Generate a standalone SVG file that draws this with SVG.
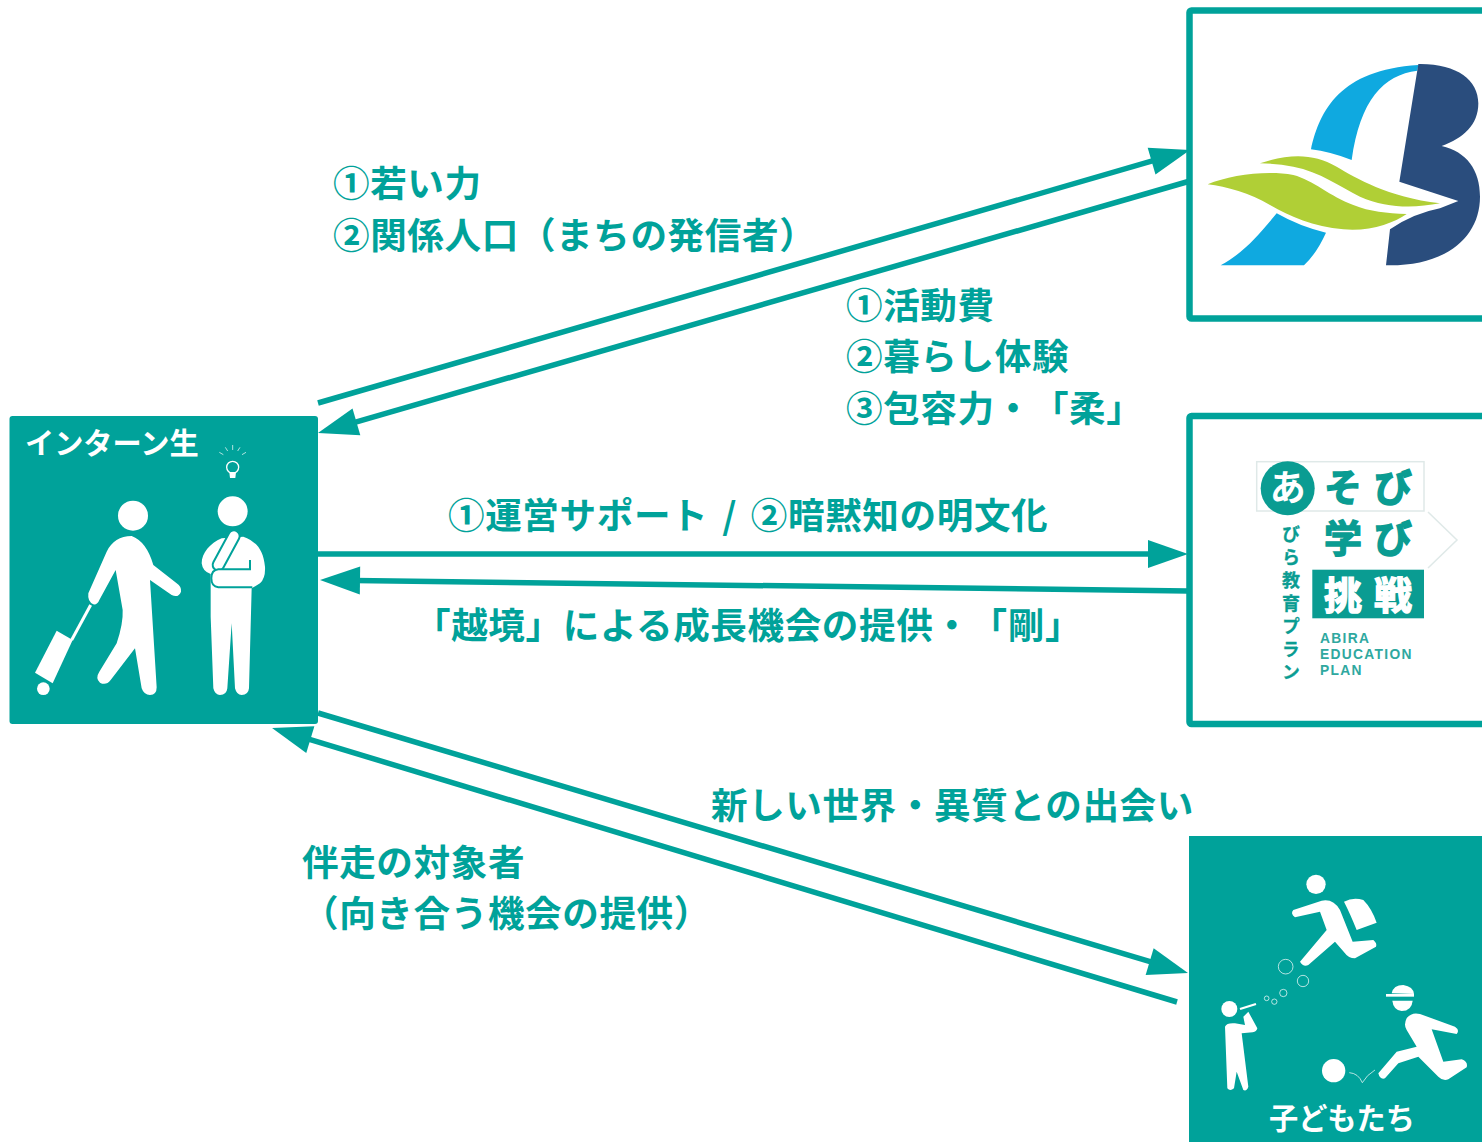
<svg xmlns="http://www.w3.org/2000/svg" width="1482" height="1142" viewBox="0 0 1482 1142">
<style>
text{text-spacing-trim:space-all}
.t{font-family:"Noto Sans CJK JP","Noto Sans",sans-serif;font-weight:700;fill:#00a29a;font-size:36.6px;letter-spacing:.6px}
.w{fill:#fff}
.b{fill:#00a29a}
.n{font-family:"Noto Sans CJK JP","Noto Sans",sans-serif;font-weight:700;fill:#fff}
.c{fill:none;stroke:#00a29a;stroke-width:5.5}
.f{fill:#fff;stroke:#00a29a;stroke-width:6.5}
.thin{fill:none;stroke:#fff;stroke-opacity:.7;stroke-width:3}
.l{font-family:"Noto Sans CJK JP","Noto Sans",sans-serif;font-weight:700;fill:#0a9c92;stroke:#0a9c92;stroke-width:1.4px}
.la{font-family:"Liberation Sans",sans-serif;font-weight:700;fill:#2fa89f;font-size:13.8px;letter-spacing:1.3px}
</style>
<defs>
<marker id="ah" markerUnits="userSpaceOnUse" viewBox="0 0 40 28" refX="25" refY="14" markerWidth="40" markerHeight="28" orient="auto" overflow="visible"><path d="M0 0L40 14L0 28Z" fill="#00a29a"/></marker>
</defs>
<rect width="1482" height="1142" fill="#fff"/>

<g id="intern">
<rect class="b" x="9.500" y="416" width="308.500" height="308" rx="3"/>
<text class="n" x="25" y="454" font-size="29.200">インターン生</text>
<g transform="translate(0 410) scale(.33333)">
<circle class="w" cx="399" cy="317" r="45"/>
<path class="w" d="M395 378C360 378 335 395 320 425L265 550Q262 575 280 583Q292 585 298 570L347 480L368 600Q370 640 350 700L298 785Q285 805 300 818Q318 828 332 810L405 715L425 835Q432 855 450 855Q470 855 470 832L450 510L515 555Q535 565 543 545Q545 530 530 520L460 465Q440 395 395 378Z"/>
<path d="M272 585L215 690" fill="none" stroke="#fff" stroke-width="9"/>
<path class="w" d="M170 662L218 690L158 820L105 788Z"/>
<circle class="w" cx="130" cy="836" r="19"/>
<circle class="w" cx="698" cy="304" r="45"/>
<path class="w" d="M665 385C630 400 605 430 605 460Q608 485 632 492L632 620L640 835Q645 855 660 855Q680 855 682 835L695 640L705 835Q710 855 725 855Q745 855 747 835L755 535L780 520Q797 505 795 470C790 420 770 395 730 380Z"/>
<path d="M702 378L655 465" fill="none" stroke="#00a29a" stroke-width="40" stroke-linecap="round"/>
<path d="M702 378L655 465" fill="none" stroke="#fff" stroke-width="28" stroke-linecap="round"/>
<path d="M750 450V478H655Q634 480 634 505Q634 530 655 532H757" fill="#fff" stroke="#00a29a" stroke-width="6"/>
<circle cx="698" cy="172" r="18" fill="none" stroke="#fff" stroke-width="4"/>
<path class="w" d="M688 186H708L706 204H690Z"/>
<path class="thin" d="M698 105V120M676 112L683 123M720 112L713 123M658 127L670 134M738 127L726 134"/>
</g>
</g>

<g id="abira-town">
<rect class="f" x="1189.500" y="10.500" width="320" height="308" rx="2"/>
<g transform="translate(1180 0) scale(.33333)">
<path fill="#0fa9e0" d="M393 448C420 330 480 210 715 195L712 212C610 225 540 300 515 480Q450 455 393 448Z"/>
<path fill="#0fa9e0" d="M122 796C190 760 240 700 290 640Q360 680 438 698Q410 760 372 796Z"/>
<path fill="#2a4d7d" d="M715 192C830 190 895 240 895 310C895 375 850 415 785 438C860 455 900 510 900 590C900 710 800 800 618 796L630 688Q700 640 780 625L835 603L658 545Z"/>
<path fill="#b0cf36" d="M240 490C330 460 400 460 470 500C530 535 620 590 780 610C700 625 620 625 540 590C480 560 420 515 340 500Q290 490 240 490Z"/>
<path fill="#b0cf36" d="M83 553C150 525 260 510 340 525C400 540 450 590 520 615C570 635 620 640 680 642C640 670 570 695 490 688C400 680 330 650 270 615C210 580 140 560 83 553Z"/>
</g>
</g>

<g id="education-plan">
<rect class="f" x="1189.500" y="416" width="320" height="308" rx="2"/>
<rect x="1256.700" y="461.700" width="167.300" height="49.300" fill="none" stroke="#dfe9e8" stroke-width="1.500"/>
<path d="M1428 512L1457 540L1428 568" fill="none" stroke="#dfe9e8" stroke-width="1.500"/>
<circle cx="1287.700" cy="488.300" r="27" fill="#0a9c92"/>
<text class="n" x="1287.700" y="501" font-size="36" text-anchor="middle">あ</text>
<text class="l" x="1324" y="501" font-size="38" letter-spacing="12">そび</text>
<text class="l" x="1324" y="552" font-size="38" letter-spacing="12">学び</text>
<rect x="1312.300" y="569.700" width="111.700" height="48.600" fill="#0a9c92"/>
<text class="n" x="1324" y="609" font-size="38" letter-spacing="12" stroke="#fff" stroke-width="1.400">挑戦</text>
<text class="l" x="1291" y="525" font-size="18" letter-spacing="5" style="writing-mode:vertical-rl;stroke-width:.3px">びら教育プラン</text>
<text class="la" x="1320" y="643">ABIRA</text>
<text class="la" x="1320" y="659">EDUCATION</text>
<text class="la" x="1320" y="675">PLAN</text>
</g>

<g id="children">
<rect class="b" x="1189" y="836" width="293" height="306"/>
<text class="n" x="1269" y="1129" font-size="29.200">子どもたち</text>
<g transform="translate(1180 830) scale(.33333)">
<circle class="w" cx="408" cy="163" r="29"/>
<path class="w" d="M340 240L425 212Q460 205 480 240L518 335L580 330Q592 340 588 350L525 385Q505 385 495 370L465 335L385 405Q370 412 360 395L440 300L420 245L345 262Q330 250 340 240Z"/>
<path class="w" d="M492 215Q520 200 550 210Q575 235 590 278L530 300Q510 250 492 215Z"/>
<g class="thin"><circle cx="317" cy="410" r="22"/><circle cx="369" cy="453" r="17"/><circle cx="310" cy="489" r="11"/><circle cx="283" cy="515" r="8"/><circle cx="260" cy="505" r="7"/></g>
<circle class="w" cx="148" cy="537" r="24"/>
<path class="w" d="M135 590Q140 578 165 580L195 585L190 560L205 545L232 595Q230 605 218 607L185 610L205 770Q200 785 190 780L170 725L162 775Q150 785 142 775Z"/>
<path d="M180 537L228 522" fill="none" stroke="#fff" stroke-width="7"/>
<path class="w" d="M635 490Q640 465 670 465Q700 470 702 492Z"/>
<rect class="w" x="618" y="492" width="84" height="8"/>
<path class="w" d="M637 512L698 512Q695 543 665 543Q640 540 637 512Z"/>
<path class="w" d="M680 565Q695 545 720 552L825 590Q840 600 830 612L755 598L790 695L845 688Q865 695 860 712L805 748Q790 755 775 740L715 680L655 700L615 745Q600 750 595 730L650 665L710 650L680 600Q670 585 680 565Z"/>
<circle class="w" cx="461" cy="722" r="35"/>
<path class="thin" d="M508 728Q535 730 547 758Q560 735 585 720"/>
</g>
</g>

<g id="connectors">
<path class="c" d="M318 403L1175.600 154.200" marker-end="url(#ah)"/>
<path class="c" d="M1190 181L332.400 428.800" marker-end="url(#ah)"/>
<path class="c" d="M318 554L1173 554" marker-end="url(#ah)"/>
<path class="c" d="M1188 591L335 580.200" marker-end="url(#ah)"/>
<path class="c" d="M318 713L1173.600 968.700" marker-end="url(#ah)"/>
<path class="c" d="M1177 1002L286.400 732.400" marker-end="url(#ah)"/>
</g>

<g id="labels">
<text class="t" x="333" y="197">①若い力</text>
<text class="t" x="333" y="249">②関係人口（まちの発信者）</text>
<text class="t" x="846" y="319">①活動費</text>
<text class="t" x="846" y="370">②暮らし体験</text>
<text class="t" x="846" y="422">③包容力・「柔」</text>
<text class="t" x="448" y="529" word-spacing="5">①運営サポート / ②暗黙知の明文化</text>
<text class="t" x="414" y="639">「越境」による成長機会の提供・「剛」</text>
<text class="t" x="711" y="819">新しい世界・異質との出会い</text>
<text class="t" x="302" y="876">伴走の対象者</text>
<text class="t" x="302" y="927">（向き合う機会の提供）</text>
</g>
</svg>
